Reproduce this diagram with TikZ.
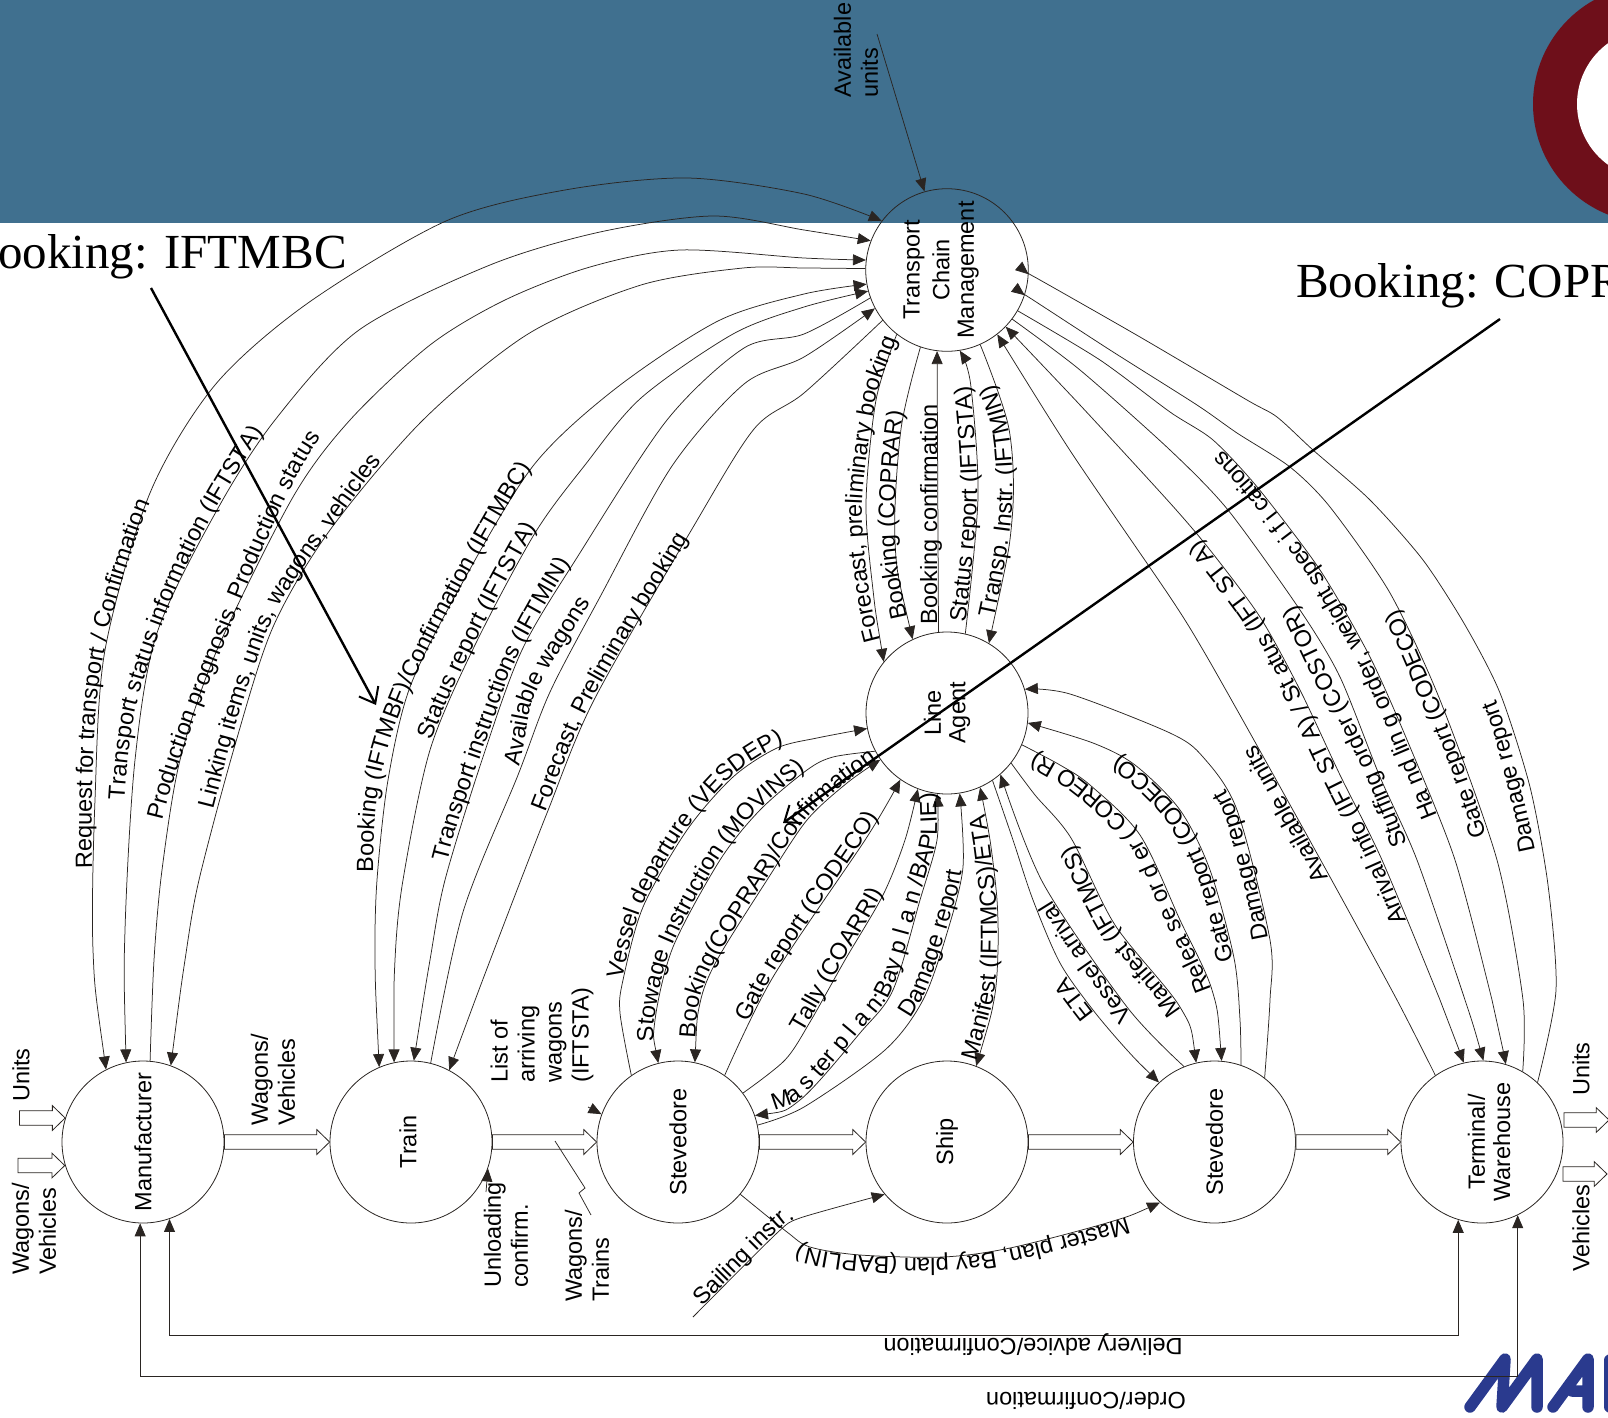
\documentclass[tikz,border=0pt]{standalone}
\usepackage{fontspec}
\usepackage{graphicx}
\setmainfont{Liberation Sans}
\newfontfamily\bigserif{Liberation Serif}
\usetikzlibrary{arrows.meta,calc,decorations.text}
\definecolor{band}{HTML}{40708F}
\definecolor{ringred}{HTML}{6E0F1A}
\definecolor{logoblue}{HTML}{2A3A8E}
\definecolor{ink}{HTML}{2A2522}
\newcommand{\labfont}{\fontsize{23.5pt}{27pt}\selectfont}
\tikzset{
  >={Triangle[length=13pt,width=11pt]},
  place/.style={circle,draw=ink,line width=.8pt,minimum size=162pt,inner sep=0pt,font=\labfont},
  con/.style={draw=ink,line width=.75pt},
  heavy/.style={draw=black,line width=2.4pt,-{Straight Barb[length=14pt,width=22pt,line width=2pt]}},
  lab/.style={font=\labfont,inner sep=0pt,align=left},
  vlab/.style={lab,rotate=90,anchor=west},
  big/.style={font=\bigserif\fontsize{49pt}{55pt}\selectfont,inner sep=0pt},
  onpath/.style n args={3}{postaction={decorate,decoration={text along path,raise=#3pt,
     text align={left indent=#1pt},text={|\labfont|#2}}}},
  blockarr/.style={draw=ink,line width=.8pt,fill=white,to path={let \p1=(\tikztostart),\p2=(\tikztotarget) in
     (\x1,\y1-7.2pt) -- (\x2-12.8pt,\y1-7.2pt) -- (\x2-12.8pt,\y1-12.4pt) -- (\x2,\y1)
     -- (\x2-12.8pt,\y1+12.4pt) -- (\x2-12.8pt,\y1+7.2pt) -- (\x1,\y1+7.2pt) -- cycle}},
}
\begin{document}
\begin{tikzpicture}[x=1pt,y=-1pt]
\useasboundingbox (0,0) rectangle (1608,1418);
\clip (0,0) rectangle (1608,1418);
% backdrop
\fill[band] (0,0) rectangle (1608,223);
\fill[ringred] (1652,104) circle (119);
\fill[white] (1652,104) circle (75);
% logo
\draw[logoblue,line width=11.5pt,line cap=round,line join=round]
  (1470,1407) -- (1505,1359) -- (1502,1407) -- (1537,1359) -- (1537,1407);
\draw[logoblue,line width=11.5pt,line cap=round,line join=round]
  (1553,1407) -- (1588,1359) -- (1588,1407) (1572,1391) -- (1588,1391);
\draw[logoblue,line width=11.5pt,line cap=round] (1610,1360) -- (1610,1407);
% large captions
\node[big,anchor=base east] (capA) at (347,268) {Booking: IFTMBC};
\node[big,anchor=base west] (capB) at (1296,297) {Booking: COPRAR};
% circles
\node[place] (man) at (143,1142) {\rotatebox{90}{Manufacturer}};
\node[place] (train) at (411,1142) {\rotatebox{90}{Train}\hspace*{6pt}};
\node[place] (st1) at (678,1142) {\rotatebox{90}{Stevedore}};
\node[place] (ship) at (947,1142) {\rotatebox{90}{Ship}};
\node[place] (st2) at (1214.5,1142) {\rotatebox{90}{Stevedore}};
\node[place] (term) at (1482,1142) {\hspace*{14pt}\rotatebox{90}{\shortstack{Terminal/\\[5pt]Warehouse}}};
\node[place] (la) at (947,713) {\rotatebox{90}{\shortstack{Line\\[5pt]Agent}}};
\node[place] (tcm) at (947,270) {\rotatebox{90}{\shortstack{Transport\\[5pt]Chain\\[5pt]Management}}\hspace*{12pt}};
% block arrows
\draw[blockarr] (man.east) to (train.west);
\draw[blockarr] (train.east) to (st1.west);
\draw[blockarr] (st1.east) to (ship.west);
\draw[blockarr] (ship.east) to (st2.west);
\draw[blockarr] (st2.east) to (term.west);
\coordinate (inU) at (19.5,1118);
\coordinate (inW) at (18,1165.5);
\coordinate (outU) at (1564,1120);
\coordinate (outUt) at (1609,1120);
\coordinate (outV) at (1563,1174);
\coordinate (outVt) at (1607,1174);
\draw[blockarr] (inU) to (man.163);
\draw[blockarr] (inW) to (man.196.5);
\draw[blockarr] (outU) to (outUt);
\draw[blockarr] (outV) to (outVt);
% manufacturer curves
\draw[con,<->] plot[smooth] coordinates {(man.117) (93,950) (95,800) (105,650) (150,493) (215,385) (308,303) (446,221) (565,190) (687,178) (804,194) (tcm.143)};
\path[onpath={201}{Request for transport / Confirmation}{1}] plot[smooth] coordinates {(man.117) (93,867) (97,709) (115,610) (154,497) (210,398) (308,303) (446,221) (560,190) (687,178) (804,194) (tcm.143)};
\draw[con,<->] plot[smooth] coordinates {(man.102) (125,930) (135,760) (157,633) (217,510) (275,420) (359,330) (490,265) (600,232) (713,216) (804,230) (tcm.159)};
\path[onpath={262}{Transport status information (IFTSTA)}{5}] plot[smooth] coordinates {(man.102) (127,850) (141,709) (195,560) (272,429) (359,330) (513,258) (610,230) (713,216) (804,230) (tcm.159)};
\draw[con,->] plot[smooth] coordinates {(man.85) (154,960) (162,870) (180,760) (217,650) (293,497) (350,420) (430,345) (505,300) (590,267) (680,250) (804,258) (tcm.173)};
\path[onpath={241}{Production prognosis, Production status}{1}] plot[smooth] coordinates {(man.85) (154,912) (164,820) (200,709) (277,520) (328,429) (410,339) (590,267) (743,245) (804,258) (tcm.173)};
\draw[con,<-] plot[smooth] coordinates {(man.70) (185,960) (199,880) (235,745) (273,627) (330,530) (423,420) (528,334) (641,285) (743,268) (804,268) (tcm.179)};
\path[onpath={260}{Linking items, units, wagons, vehicles}{0}] plot[smooth] coordinates {(man.70) (195,890) (215,804) (241,709) (277,610) (338,520) (410,429) (528,334) (641,285) (743,268) (804,268) (tcm.179)};
% train curves
\draw[con,<->] plot[smooth] coordinates {(train.113) (375,960) (377,880) (388,780) (410,687) (460,587) (533,466) (615,389) (718,321) (804,294) (tcm.190.5)};
\path[onpath={195}{Booking (IFTMBF)/Confirmation (IFTMBC)}{0}] plot[smooth] coordinates {(train.113) (374,935) (377,799) (415,678) (533,466) (615,389) (718,321) (804,294) (tcm.190.5)};
\draw[con,<->,onpath={325}{Status report (IFTSTA)}{1}] plot[smooth] coordinates {(train.102) (395,960) (403,880) (430,750) (475,645) (535,533) (585,465) (641,398) (733,334) (804,307) (tcm.195.5)};
\draw[con,<-] plot[smooth] coordinates {(train.88) (430,960) (445,880) (482,760) (522,650) (578,556) (667,420) (744,348) (804,334) (tcm.200)};
\path[onpath={202}{Transport instructions (IFTMIN)}{-5}] plot[smooth] coordinates {(train.88) (441,867) (492,709) (513,655) (569,556) (667,407) (744,348) (804,334) (tcm.200)};
\draw[con,->] plot[smooth] coordinates {(train.76) (463,912) (518,775) (550,692) (600,597) (672,466) (744,384) (804,357) (tcm.208)};
\path[onpath={310}{Available wagons}{-3}] plot[smooth] coordinates {(train.76) (461,912) (513,777) (533,692) (590,597) (667,466) (744,384) (804,357) (tcm.208)};
\draw[con,<-] plot[smooth] coordinates {(train.62) (491,958) (547,813) (594,700) (692,529) (754,429) (804,393) (tcm.218)};
\path[onpath={275}{Forecast, Preliminary booking}{-2}] plot[smooth] coordinates {(train.62) (487,958) (543,813) (590,700) (692,529) (754,429) (804,393) (tcm.218)};
% available units
\coordinate (availEnd) at (877,34);
\draw[con,->] (availEnd) -- (tcm.106);
\node[vlab] (availL) at (856,98) {Available\\units};
% tcm -- line agent
\draw[con,<-] plot[smooth] coordinates {(la.141) (873,590) (866,503) (876,400) (tcm.232.5)};
\path[onpath={82}{Forecast, preliminary booking}{-2}] plot[smooth] coordinates {(900,720) (la.141) (867,590) (860,503) (874,400) (tcm.232.5) (930,230)};
\draw[con,<-] plot[smooth] coordinates {(la.115.5) (895,542) (901,429) (tcm.251)};
\path[onpath={85}{Booking (COPRAR)}{0}] plot[smooth] coordinates {(930,700) (la.115.5) (895,542) (901,429) (tcm.251) (945,240)};
\draw[con,->] (la.96.4) -- (tcm.263.6);
\path[onpath={76}{Booking confirmation}{1}] (938,700) -- (938,200);
\draw[con,->] plot[smooth] coordinates {(la.77) (978,497) (970.6,384) (tcm.279)};
\path[onpath={78}{Status report (IFTSTA)}{1}] plot[smooth] coordinates {(955,700) (la.77) (978,497) (970.6,384) (tcm.279) (945,250)};
\draw[con,<-] plot[smooth] coordinates {(la.59.6) (1012,520) (1009,429) (tcm.294)};
\path[onpath={89}{Transp. Instr. (IFTMIN)}{1}] plot[smooth] coordinates {(960,700) (la.59.6) (1012,520) (1009,429) (tcm.294) (950,260)};
% tcm -- terminal
\draw[con,->] plot[smooth,tension=.45] coordinates {(term.47.5) (1556,990) (1548,885) (1530,787) (1500,693) (1465,625) (1423,560) (1370,500) (1313,450) (1277,417) (1247,400) (1140,337) (1040,280) (tcm.-3.5)};
\path[onpath={235}{Damage report}{1}] plot[smooth,tension=.45] coordinates {(term.47.5) (1555,998) (1538,857) (1503,717) (1480,667) (1447,593) (1410,543) (1370,500) (1313,450) (1277,417) (1247,400) (1040,280) (tcm.-3.5)};
\draw[con,->] plot[smooth,tension=.45] coordinates {(term.60) (1523,1000) (1497,860) (1440,700) (1390,593) (1330,507) (1290,467) (1237,433) (1197,405) (1110,350) (1030,298) (tcm.-18)};
\path[onpath={240}{Gate report (CODECO)}{1}] plot[smooth,tension=.45] coordinates {(term.60) (1523,1000) (1487,833) (1443,710) (1403,617) (1370,567) (1330,507) (1290,467) (1237,433) (1197,400) (1030,298) (tcm.-18)};
\draw[con,<-,onpath={258}{Ha nd lin g order, weight spec i f i cations}{1}] plot[smooth,tension=.45] coordinates {(term.73.5) (1492,1000) (1455,860) (1410,747) (1370,657) (1320,570) (1258,488) (1213,440) (1170,412) (1100,360) (tcm.-30)};
\draw[con,<-] plot[smooth,tension=.45] coordinates {(term.89.5) (1465,1000) (1417,860) (1380,777) (1340,677) (1300,610) (1228,510) (1170,450) (1080,370) (tcm.-37)};
\path[onpath={230}{Stuffing order (COSTOR)}{1}] plot[smooth,tension=.45] coordinates {(term.89.5) (1465,1000) (1407,840) (1370,753) (1327,667) (1280,573) (1228,510) (1170,450) (1080,370) (tcm.-37)};
\draw[con,<->,onpath={153}{Arrival info (IFT ST A) / St atus (IFT ST A)}{1}] plot[smooth,tension=.45] coordinates {(term.103.5) (1440,1000) (1382,860) (1340,775) (1300,690) (1260,617) (1210,550) (1170,503) (1080,405) (tcm.-44)};
\draw[con,->,onpath={225}{Available units}{1}] plot[smooth,tension=.45] coordinates {(term.125) (1397,1000) (1330,877) (1250,733) (1203,650) (1170,597) (1071,452) (tcm.-52.7)};
% line agent -- stevedore 2
\draw[con,->,onpath={140}{Damage report}{1}] plot[smooth] coordinates {(st2.52.7) (1270,1000) (1270,940) (1237,810) (1203,757) (1170,733) (1070,694) (la.17)};
\draw[con,->,onpath={105}{Gate report (CODECO)}{1}] plot[smooth] coordinates {(st2.71) (1240,1020) (1234,958) (1210,870) (1180,810) (1135,765) (1093,743) (la.-7)};
\draw[con,<-] plot[smooth] coordinates {(st2.85) (1212,990) (1180,920) (1140,835) (1090,785) (1060,765) (la.-23)};
\path[onpath={72}{Relea se or d er ( COREO R)}{1}] plot[smooth] coordinates {(st2.85) (1212,990) (1180,920) (1140,835) (1090,785) (1060,765) (la.-23) (947,713)};
\draw[con,<-] plot[smooth] coordinates {(st2.103) (1180,1007) (1115,925) (1071,838) (1035,795) (la.-38.7)};
\path[onpath={55}{Manifest (IFTMCS)}{1}] plot[smooth] coordinates {(st2.103) (1180,1007) (1115,925) (1071,838) (1035,795) (la.-38.7) (947,713)};
\draw[con,->] plot[smooth] coordinates {(st2.112.5) (1127,1007) (1043,883) (la.-49)};
\path[onpath={72}{Vessel arrival}{1}] plot[smooth] coordinates {(st2.112.5) (1127,1007) (1043,883) (la.-49) (947,713)};
\draw[con,<-,onpath={95}{ETA}{1}] plot[smooth] coordinates {(st2.133) (1127,1050) (1093,1010) (1060,963) (1033,900) (1013,840) (la.-56)};
% stevedore 1 -- line agent
\draw[con,->,onpath={97}{Vessel departure (VESDEP)}{1}] plot[smooth] coordinates {(st1.125) (620,1013) (623,980) (643,907) (687,830) (733,777) (777,748) (817,738) (la.191)};
\draw[con,<-] plot[smooth] coordinates {(st1.104) (655,1020) (673,947) (720,860) (760,810) (807,770) (833,757) (la.208.5)};
\path[onpath={79}{Stowage Instruction (MOVINS)}{1}] plot[smooth] coordinates {(665,1120) (st1.104) (655,1020) (673,947) (720,860) (760,810) (807,770) (833,757) (la.208.5) (960,700)};
\draw[con,<->] plot[smooth] coordinates {(st1.78) (700,1003) (717,960) (767,880) (807,820) (847,783) (la.215)};
\path[onpath={82}{Booking(COPRAR)/Confirmation}{1}] plot[smooth] coordinates {(690,1120) (st1.78) (700,1003) (717,960) (767,880) (807,820) (847,783) (la.215) (960,700)};
\draw[con,->] plot[smooth] coordinates {(st1.55) (773,977) (867,837) (la.235)};
\path[onpath={100}{Gate report (CODECO)}{1}] plot[smooth] coordinates {(700,1110) (st1.55) (773,977) (867,837) (la.235) (960,700)};
\draw[con,->] plot[smooth] coordinates {(st1.37) (785,1060) (810,1022) (845,960) (883,895) (905,840) (la.249)};
\path[onpath={85}{Tally (COARRI)}{1}] plot[smooth] coordinates {(st1.37) (785,1060) (810,1022) (845,960) (883,895) (905,840) (la.249) (947,700)};
\draw[con,<->] plot[smooth] coordinates {(st1.19) (800,1100) (860,1033) (893,990) (920,900) (937,840) (la.263.7)};
\path[onpath={77}{Ma s ter p l a n:Bay p l a n /BAPLIE)}{1}] plot[smooth] coordinates {(700,1130) (st1.19) (800,1100) (860,1033) (893,990) (920,900) (937,840) (la.263.7) (938,640)};
\draw[con,->] plot[smooth] coordinates {(st1.12) (804,1107) (885,1050) (923,1000) (947,933) (963,867) (la.279.5)};
\path[onpath={190}{Damage report}{1}] plot[smooth] coordinates {(st1.12) (804,1107) (885,1050) (923,1000) (947,933) (963,867) (la.279.5) (950,700)};
\draw[con,<->] plot[smooth] coordinates {(ship.69) (994,1000) (998,950) (997,900) (990,840) (la.294.4)};
\path[onpath={61}{Manifest (IFTMCS)/ETA}{1}] plot[smooth] coordinates {(960,1120) (ship.69) (994,1000) (998,950) (997,900) (990,840) (la.294.4) (960,700)};
% bottom curves
\draw[con,<-] plot[smooth] coordinates {(st2.228) (1110,1222) (1010,1248) (943,1257) (860,1255) (810,1247) (787,1232) (st1.-40.7)};
\path[onpath={95}{Master plan, Bay plan (BAPLIN)}{1}] plot[smooth] coordinates {(1200,1160) (st2.228) (1110,1222) (1010,1248) (943,1257) (860,1255) (810,1247) (787,1232) (st1.-40.7) (690,1150)};
\coordinate (sailEnd) at (693,1317);
\draw[con,->] plot[smooth,tension=.4] coordinates {(sailEnd) (777,1233) (800,1218) (ship.220)};
\path[onpath={75}{Sailing instr.}{1}] plot[smooth,tension=.4] coordinates {(650,1360) (sailEnd) (777,1233) (800,1218) (ship.220) (950,1140)};
% return lines
\coordinate (delivMid) at (800,1335);
\coordinate (orderMid) at (800,1376);
\draw[con,<->] (man.-71) |- (delivMid) -| (term.253);
\draw[con,<->] (man.268) |- (orderMid) -| (term.-64.4);
\node[lab,rotate=180] (delivL) at (1033,1345) {Delivery advice/Confirmation};
\node[lab,rotate=180] (orderL) at (1086,1401) {Order/Confirmation};
% short tips
\coordinate (listTail) at (588,1107);
\draw[con,->] (listTail) -- (st1.160);
\coordinate (unlTail) at (486,1192);
\draw[con,->] (unlTail) -- (train.-19.5);
% lightning
\coordinate (zA) at (555,1141);
\coordinate (zB) at (585,1188);
\coordinate (zC) at (579,1193);
\coordinate (zD) at (591,1215);
\draw[con] (zA) -- (zB) -- (zC) -- (zD);
% free labels
\node[vlab] (unitsL) at (21,1102) {Units};
\node[vlab] (wagL) at (34,1275) {Wagons/\\Vehicles};
\node[vlab] (wag2L) at (273,1126) {Wagons/\\Vehicles};
\node[vlab] (listL) at (542,1083) {List of\\arriving\\wagons\\(IFTSTA)};
\node[vlab] (unlL) at (506,1288) {Unloading\\confirm.};
\node[vlab] (wtL) at (587,1302) {Wagons/\\Trains};
\node[vlab] (unitsR) at (1581,1096) {Units};
\node[vlab] (vehR) at (1581,1272) {Vehicles};
% heavy arrows
\coordinate (hA) at (151,288);
\coordinate (hB) at (376,705);
\coordinate (hC) at (1500,319);
\coordinate (hD) at (783,823);
\draw[heavy] (hA) -- (hB);
\draw[heavy] (hC) -- (hD);
\end{tikzpicture}
\end{document}
